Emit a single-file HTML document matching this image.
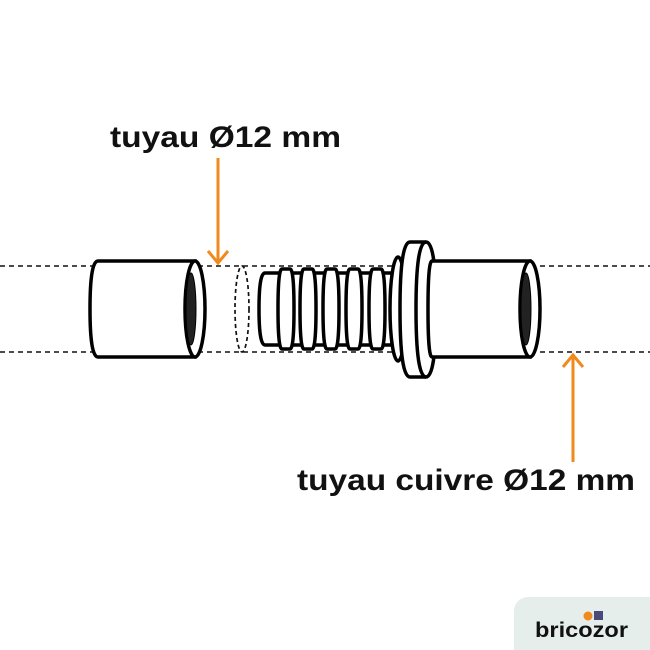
<!DOCTYPE html>
<html><head><style>
html,body{margin:0;padding:0;background:#fff;}
svg{display:block;}
</style></head><body>
<svg width="650" height="650" viewBox="0 0 650 650" xmlns="http://www.w3.org/2000/svg">
<g stroke="#111" stroke-width="1.5" stroke-dasharray="5,4">
<line x1="0" y1="266" x2="650" y2="266"/>
<line x1="0" y1="352" x2="650" y2="352"/>
</g>
<g stroke="#000" stroke-width="3.5" fill="#fff">
<path d="M98,261 L195,261 L195,357 L98,357 Q90,357 90,309 Q90,261 98,261 Z"/>
<ellipse cx="195" cy="309" rx="10" ry="48"/>
<ellipse cx="191" cy="309" rx="5" ry="36" fill="#222" stroke-width="1"/>
</g>
<ellipse cx="242" cy="309" rx="7" ry="43" fill="none" stroke="#111" stroke-width="1.7" stroke-dasharray="4,3"/>
<g stroke="#000" stroke-width="3.5" fill="#fff">
<path d="M265,273 L392,273 L392,345 L265,345 Q259,345 259,309 Q259,273 265,273 Z"/>
<path d="M282,269 L290,269 Q294,269 294,309 Q294,349 290,349 L282,349 Q278,349 278,309 Q278,269 282,269 Z"/>
<path d="M304,269 L312,269 Q316,269 316,309 Q316,349 312,349 L304,349 Q300,349 300,309 Q300,269 304,269 Z"/>
<path d="M327,269 L335,269 Q339,269 339,309 Q339,349 335,349 L327,349 Q323,349 323,309 Q323,269 327,269 Z"/>
<path d="M350,269 L358,269 Q362,269 362,309 Q362,349 358,349 L350,349 Q346,349 346,309 Q346,269 350,269 Z"/>
<path d="M373,269 L381,269 Q385,269 385,309 Q385,349 381,349 L373,349 Q369,349 369,309 Q369,269 373,269 Z"/>
<ellipse cx="398" cy="309" rx="8" ry="52"/>
<path d="M410,242 L426,242 Q436,242 436,309 Q436,377 426,377 L410,377 Q400,377 400,309 Q400,242 410,242 Z"/>
<path d="M426,242 Q416,242 416,309 Q416,377 426,377" fill="none"/>
<path d="M432,261 L530,261 L530,357 L432,357 Q428,357 428,309 Q428,261 432,261 Z"/>
<ellipse cx="530" cy="309" rx="10" ry="48"/>
<ellipse cx="526" cy="309" rx="5" ry="36" fill="#222" stroke-width="1"/>
</g>
<g stroke="#f08a1c" stroke-width="3" fill="none">
<line x1="218" y1="158" x2="218" y2="263"/>
<polyline points="208,251 218,263 228,251"/>
<line x1="573" y1="462" x2="573" y2="355"/>
<polyline points="563,367 573,355 583,367"/>
</g>
<g font-family="Liberation Sans, sans-serif" font-weight="bold" font-size="30" fill="#111">
<text x="110" y="147" textLength="231" lengthAdjust="spacingAndGlyphs">tuyau Ø12 mm</text>
<text x="297" y="490" textLength="338" lengthAdjust="spacingAndGlyphs">tuyau cuivre Ø12 mm</text>
</g>
<rect x="514" y="597" width="160" height="80" rx="14" fill="#e6eeec"/>
<circle cx="588" cy="616" r="4.5" fill="#f08a1c"/>
<rect x="594" y="611" width="9" height="9" fill="#4a4a7a"/>
<text x="535" y="637" font-family="Liberation Sans, sans-serif" font-weight="bold" font-size="21" fill="#111" textLength="93" lengthAdjust="spacingAndGlyphs">bricozor</text>
</svg>
</body></html>
